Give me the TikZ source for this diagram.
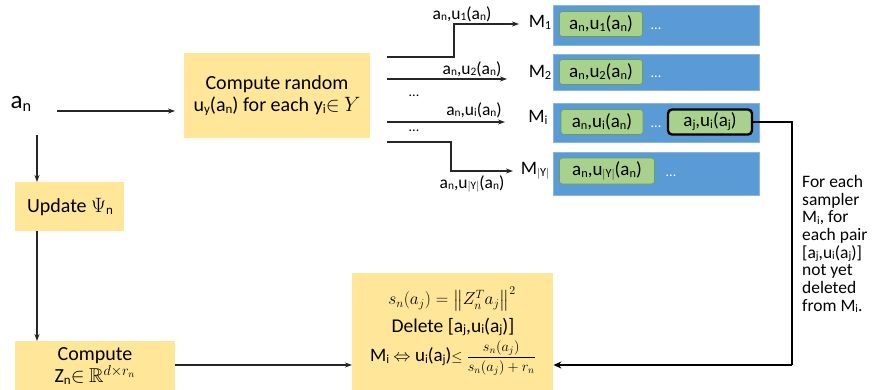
\documentclass[tikz,border=0pt]{standalone}
\usepackage{amsmath,amssymb}
\usepackage{fontspec}
\setmainfont{Carlito}
\usetikzlibrary{arrows.meta,calc}
\definecolor{ybox}{HTML}{FFE699}
\definecolor{bbox}{HTML}{5B9BD5}
\definecolor{bedge}{HTML}{8AB4DE}
\definecolor{gbox}{HTML}{A9D18E}
\definecolor{gedge}{HTML}{6F9E52}
\newcommand\lo[1]{\raisebox{-0.2ex}{\scalebox{0.65}{#1}}}
\begin{document}
\begin{tikzpicture}[x=1pt,y=-1pt,
  ybx/.style={fill=ybox,draw=none,inner sep=0pt,anchor=north west},
  bbx/.style={fill=bbox,draw=bedge,line width=0.8pt,inner sep=0pt,anchor=north west,minimum width=206},
  gbx/.style={fill=gbox,draw=gedge,line width=0.6pt,rounded corners=3pt,inner sep=0pt,minimum height=25,font=\fontsize{19}{20}\selectfont},
  txt/.style={inner sep=0pt,font=\fontsize{20}{22}\selectfont,align=center},
  lbl/.style={inner sep=0pt,font=\fontsize{17.5}{18}\selectfont},
  mlb/.style={inner sep=0pt,font=\fontsize{19}{20}\selectfont},
  dots/.style={inner sep=0pt,font=\fontsize{14}{16}\selectfont},
  dotsw/.style={inner sep=0pt,font=\fontsize{14}{16}\selectfont,text=white},
  arr/.style={line width=1.1pt,draw=black!85,-{Stealth[length=7pt,width=5pt]}},
  thk/.style={line width=2.4pt,draw=black}]
\useasboundingbox (0,0) rectangle (875,389);
\clip (0,0) rectangle (875,389);

% left side
\node[inner sep=0pt,font=\fontsize{25}{28}\selectfont] (an) at (21,104) {a\lo{n}};
\node[ybx,minimum width=186,minimum height=85] (cr) at (184,53) {};
\node[txt] (crt) at (277,96) {Compute random\\u\lo{y}(a\lo{n}) for each y\lo{i}$\in$ $Y$};
\node[ybx,minimum width=109,minimum height=49] (upd) at (15,182) {};
\node[txt] (updt) at (70,207) {Update $\Psi$\lo{n}};
\node[ybx,minimum width=160,minimum height=60] (zb) at (15,341) {};
\node[txt] (zbt) at (95,366) {Compute\\Z\lo{n}$\in$ $\mathbb{R}^{d\times r_n}$};

\coordinate (a1) at (37,135);
\coordinate (h1) at (57,111);
\coordinate (h2) at (175,111);
\coordinate (z1) at (175,365);
\draw[arr] (h1) -- (h2);
\draw[arr] (a1) -- (a1 |- upd.north);
\draw[arr] (a1 |- upd.south) -- (a1 |- zb.north);

% big box
\node[ybx,minimum width=201,minimum height=130] (big) at (352,273) {};
\node[txt,font=\fontsize{17.5}{22}\selectfont] (f1) at (452,299) {$s_n(a_j)=\bigl\|Z_n^T a_j\bigr\|^2$};
\node[txt,font=\fontsize{19.5}{22}\selectfont] (f2) at (453,327) {Delete [a\lo{j},u\lo{i}(a\lo{j})]};
\node[txt,font=\fontsize{19}{22}\selectfont] (f3) at (453,358) {M\lo{i} $\Leftrightarrow$ u\lo{i}(a\lo{j})\fontsize{14.5}{16}\selectfont$\leq\dfrac{s_n(a_j)}{s_n(a_j)+r_n}$};
\draw[arr] (z1) -- (z1 -| big.west);

% blue rows
\node[bbx,minimum height=40] (m1) at (553,5) {};
\node[bbx,minimum height=36] (m2) at (553,54) {};
\node[bbx,minimum height=39] (mi) at (553,103) {};
\node[bbx,minimum height=43] (my) at (553,152) {};

\node[gbx,minimum width=83] (g1) at (601,24) {a\lo{n},u\lo{1}(a\lo{n})};
\node[gbx,minimum width=83] (g2) at (601,72) {a\lo{n},u\lo{2}(a\lo{n})};
\node[gbx,minimum width=82] (gi) at (602,122) {a\lo{n},u\lo{i}(a\lo{n})};
\node[gbx,minimum width=84,draw=black,line width=2.4pt,rounded corners=4pt] (aj) at (710,122) {a\lo{j},u\lo{i}(a\lo{j})};
\node[gbx,minimum width=95,minimum height=26] (gy) at (607,171) {a\lo{n},u\lo{$|$Y$|$}(a\lo{n})};

\node[dotsw] (d1) at (656,29) {...};
\node[dotsw] (d2) at (656,77) {...};
\node[dotsw] (d3) at (656,127) {...};
\node[dotsw] (d4) at (671,176) {...};

\node[mlb] (l1) at (540,22) {M\lo{1}};
\node[mlb] (l2) at (540,72) {M\lo{2}};
\node[mlb] (li) at (538,117) {M\lo{i}};
\node[mlb] (ly) at (535,171) {M\lo{$|$Y$|$}};

% fan-out arrows
\coordinate (s1) at (387,57);
\coordinate (s2) at (387,79);
\coordinate (s3) at (387,122);
\coordinate (s4) at (387,142);
\coordinate (k1) at (454,24);
\coordinate (k4) at (451,171);
\coordinate (e1) at (519,24);
\coordinate (e2) at (507,79);
\coordinate (e3) at (505,122);
\coordinate (e4) at (513,171);
\draw[arr] (s1) -| (k1) -- (e1);
\draw[arr] (s2) -- (e2);
\draw[arr] (s3) -- (e3);
\draw[arr] (s4) -| (k4) -- (e4);

\node[lbl] (t1) at (462,14) {a\lo{n},u\lo{1}(a\lo{n})};
\node[lbl] (t2) at (472,69) {a\lo{n},u\lo{2}(a\lo{n})};
\node[lbl] (t3) at (474,110) {a\lo{n},u\lo{i}(a\lo{n})};
\node[lbl] (t4) at (472,184) {a\lo{n},u\lo{$|$Y$|$}(a\lo{n})};
\node[dots] (x1) at (414,96) {...};
\node[dots] (x2) at (414,131) {...};

% feedback loop
\coordinate (rc) at (792,365);
\draw[thk] (aj.east) -| (rc);
\draw[thk,-{Stealth[length=8pt,width=7pt]}] (rc) -- (rc -| big.east);

\node[inner sep=0pt,anchor=north west,align=left,font=\fontsize{17.5}{17.7}\selectfont] (note) at (802,175)
  {For each\\sampler\\M\lo{i}, for\\each pair\\{[}a\lo{j},u\lo{i}(a\lo{j})]\\not yet\\deleted\\from M\lo{i}.};
\end{tikzpicture}
\end{document}
